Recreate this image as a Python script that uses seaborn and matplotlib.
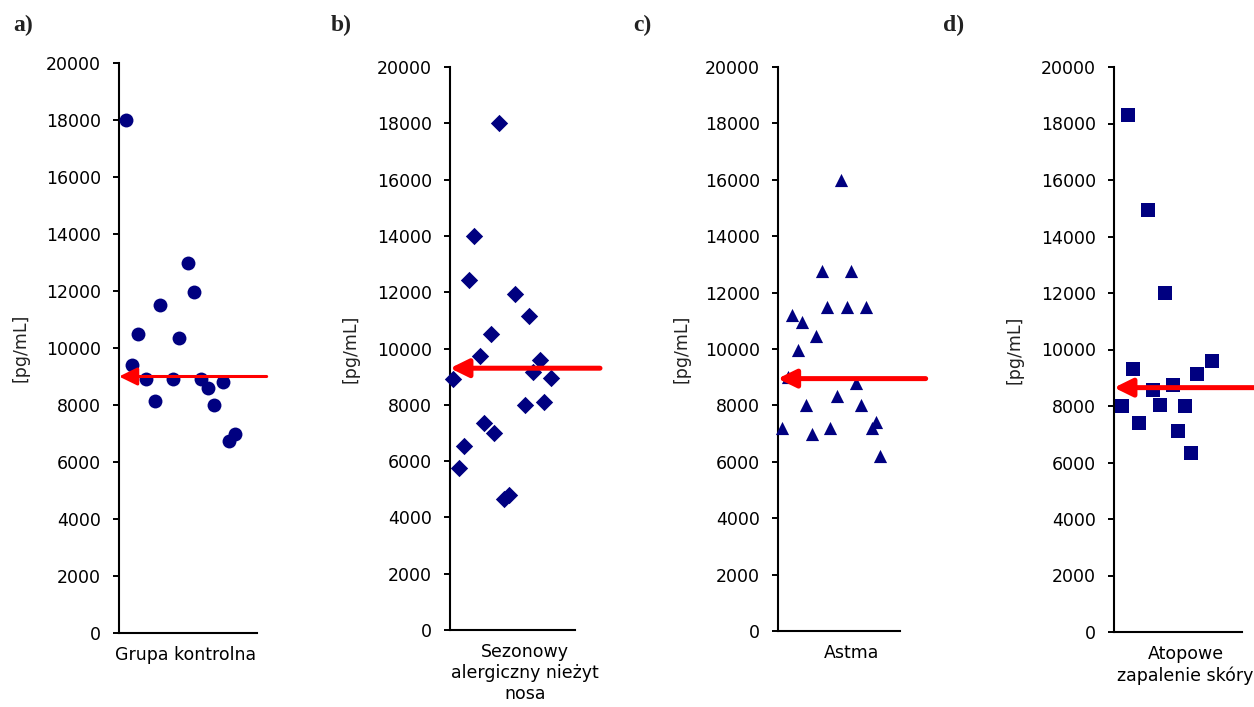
import matplotlib
matplotlib.use("Agg")
import matplotlib.pyplot as plt
import pandas as pd
import seaborn as sns

# --- Dane ---
kontrola_x = [0.05, 0.095, 0.14, 0.195, 0.26, 0.30, 0.435, 0.39, 0.50, 0.545,
              0.595, 0.645, 0.69, 0.755, 0.80, 0.84]
kontrola_y = [18000, 9400, 10500, 8900, 8150, 11500, 10350, 8900, 13000, 11950,
              8900, 8600, 8000, 8800, 6750, 7000]
kontrola_srednia = 9000

katar_x = [0.026, 0.074, 0.11, 0.154, 0.19, 0.24, 0.27, 0.33, 0.354, 0.39,
           0.434, 0.47, 0.52, 0.60, 0.634, 0.666, 0.72, 0.754, 0.806]
katar_y = [8900, 5750, 6550, 12450, 14000, 9750, 7350, 10500, 7000, 18000,
           4650, 4800, 11950, 8000, 11150, 9150, 9600, 8100, 8950]
katar_srednia = 9300

astma_x = [0.038, 0.087, 0.117, 0.169, 0.199, 0.232, 0.279, 0.314, 0.366, 0.404,
           0.431, 0.486, 0.516, 0.566, 0.598, 0.639, 0.683, 0.724, 0.770, 0.803, 0.839]
astma_y = [7200, 9000, 11200, 9950, 10950, 8000, 7000, 10450, 12750, 11500,
           7200, 8350, 16000, 11500, 12750, 8800, 8000, 11500, 7200, 7400, 6200]
astma_srednia = 8950

azs_x = [0.06, 0.107, 0.149, 0.193, 0.266, 0.308, 0.36, 0.40, 0.462, 0.504,
         0.556, 0.603, 0.65, 0.765]
azs_y = [8000, 18300, 9300, 7400, 14950, 8550, 8050, 12000, 8750, 7100,
         8000, 6350, 9150, 9600]
azs_srednia = 8650

grupy = ["Grupa kontrolna", "Sezonowy\nalergiczny nieżyt\nnosa", "Astma",
         "Atopowe\nzapalenie skóry"]
litery = ["a)", "b)", "c)", "d)"]

# --- Układ paneli (w pikselach oryginału 1254x707) ---
W, H = 1254, 707
panele = [
    # x, y, srednia, marker, rozmiar, lewa, prawa, gora, dol, pozycja etykiety, koniec strzalki, grubosc, ylabel x, litera x
    (kontrola_x, kontrola_y, kontrola_srednia, "o", 100, 119, 257, 63, 633, 0.485, 1.07, 2.2, -0.717, 13),
    (katar_x, katar_y, katar_srednia, "D", 78, 450, 575, 67, 630, 0.60, 1.20, 3.6, -0.794, 331),
    (astma_x, astma_y, astma_srednia, "^", 90, 777.7, 900, 67, 631, 0.60, 1.21, 3.6, -0.784, 633),
    (azs_x, azs_y, azs_srednia, "s", 115, 1114, 1241.7, 67, 632, 0.56, 1.12, 3.6, -0.783, 943),
]

sns.set_style("white")
plt.rcParams["font.family"] = ["DejaVu Sans"]

fig = plt.figure(figsize=(12.54, 7.07), dpi=100)
granat = "#000080"

for i, (xs, ys, sr, mk, sz, l, r, t, b, etx, kon, lw, ylx, litx) in enumerate(panele):
    ax = fig.add_axes([l / W, 1 - b / H, (r - l) / W, (b - t) / H])
    df = pd.DataFrame({"x": xs, "y": ys})
    sns.scatterplot(data=df, x="x", y="y", marker=mk, s=sz, color=granat,
                    linewidth=0, ax=ax, clip_on=False, zorder=3)
    ax.annotate("", xy=(0, sr), xytext=(kon, sr),
                arrowprops=dict(arrowstyle="-|>,head_length=0.55,head_width=0.27",
                                color="#FF0000", lw=lw, mutation_scale=20,
                                shrinkA=0, shrinkB=0),
                annotation_clip=False, zorder=5)
    ax.set_xlim(0, 1)
    ax.set_ylim(0, 20000)
    ax.set_yticks(range(0, 20001, 2000))
    ax.set_yticklabels([str(v) for v in range(0, 20001, 2000)], fontsize=12.5)
    ax.set_xticks([etx])
    ax.set_xticklabels([grupy[i]], fontsize=12.5, linespacing=1.2)
    ax.tick_params(axis="x", length=0, pad=9.5, labelcolor="black")
    ax.tick_params(axis="y", length=4.3, width=1.4, pad=8.5, color="black",
                   labelcolor="black", left=True, direction="out")
    for sp in ["top", "right"]:
        ax.spines[sp].set_visible(False)
    for sp in ["left", "bottom"]:
        ax.spines[sp].set_linewidth(1.5)
        ax.spines[sp].set_color("black")
    ax.set_xlabel("")
    ax.set_ylabel("[pg/mL]", fontsize=12.5, va="center", color="#222222")
    ax.yaxis.set_label_coords(ylx, 0.5)
    ax.patch.set_alpha(0)
    fig.text(litx / W, 1 - 25.5 / H, litery[i], fontsize=17, fontweight="bold",
             family="Liberation Serif", va="center", ha="left", color="#222222")

fig.savefig("out.png", dpi=100)
